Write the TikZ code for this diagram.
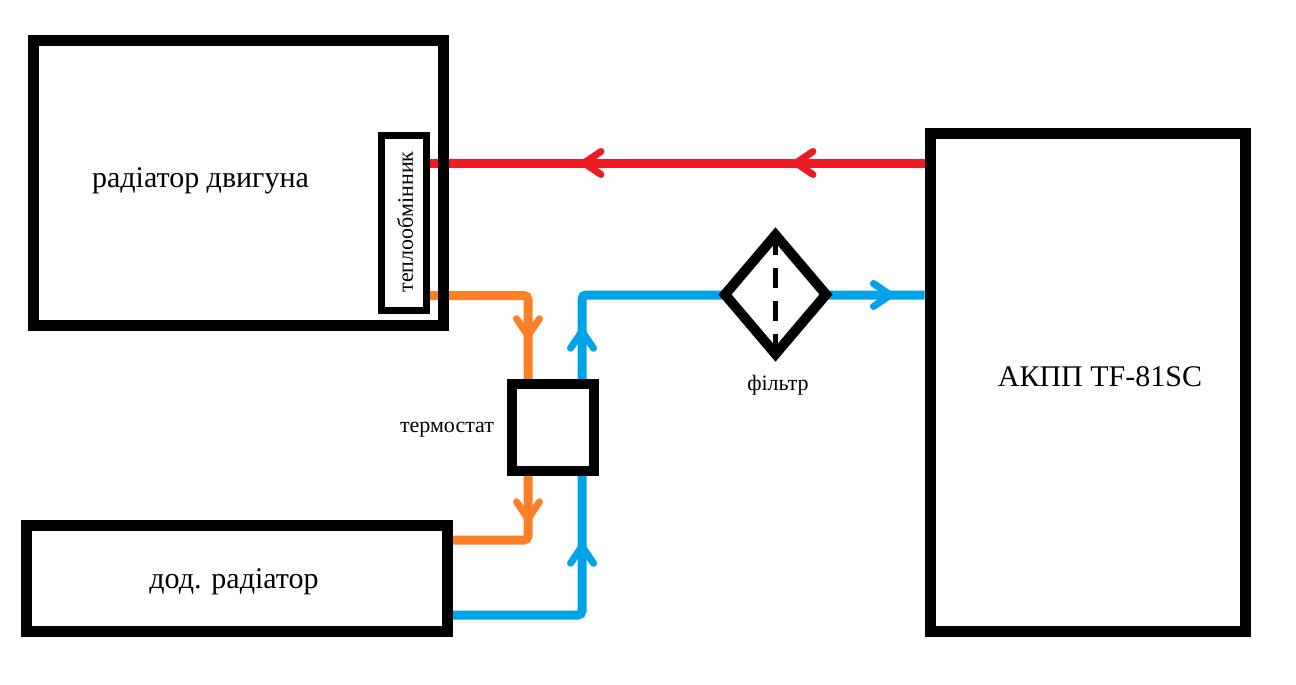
\documentclass[tikz,border=0pt]{standalone}
\usepackage{fontspec}
\setmainfont{Liberation Serif}
\usetikzlibrary{arrows.meta,decorations.markings,shapes.geometric,backgrounds}

\definecolor{hotred}{RGB}{237,28,36}
\definecolor{warmorange}{RGB}{255,127,39}
\definecolor{coldblue}{RGB}{0,162,232}

\newcommand{\flowtip}{\arrow{Straight Barb[length=17pt,width=23pt,line width=7pt,round]}}

\tikzset{
  unit/.style={draw=black, line width=11pt, inner sep=0pt},
  pipe/.style={line width=9pt, rounded corners=4pt, postaction={decorate}},
  bigtext/.style={font=\fontsize{30}{36}\selectfont},
  smalltext/.style={font=\fontsize{22}{26}\selectfont},
}

\begin{document}
\begin{tikzpicture}[x=1pt, y=-1pt]
    \useasboundingbox (0,0) rectangle (1296,685);
    % Draw engine radiator
    \node[unit, minimum width=410, minimum height=285] (engine) at (238.5,183) {};
    \node[bigtext, anchor=base] (enginetext) at (200.5,187) {радіатор двигуна};
    \node[unit, line width=7pt, minimum width=45, minimum height=175] (exch) at (404,223) {};
    \node[smalltext, rotate=90] (exchtext) at (405,222) {теплообмінник};
    % Draw gearbox
    \node[unit, minimum width=315.5, minimum height=498] (akpp) at (1087.75,382.5) {};
    \node[bigtext, anchor=base] (akpptext) at (1100,386) {АКПП TF-81SC};
    % Draw extra radiator
    \node[unit, minimum width=420.5, minimum height=106.5] (dod) at (236.75,578.25) {};
    \node[bigtext, anchor=base] (dodtext) at (234,588) {дод. радіатор};
    % Draw thermostat
    \node[unit, line width=10pt, fill=white, minimum width=82, minimum height=87] (therm) at (553,427.5) {};
    \node[smalltext, anchor=base] (thermtext) at (447,432) {термостат};
    % Draw filter
    \node[draw, diamond, line width=10pt, fill=white, inner sep=0pt, outer sep=0pt,
          minimum width=101, minimum height=119] (filter) at (775.5,294.5) {};
    \draw[line width=5pt, dash pattern=on 20pt off 13pt] (filter.north) -- (filter.south);
    \node[smalltext, anchor=base] (filtertext) at (778,390) {фільтр};
    % Draw pipes
    \begin{pgfonlayer}{background}
    \draw[pipe, hotred, decoration={markings,
          mark=at position 132pt with {\flowtip},
          mark=at position 344pt with {\flowtip}}]
        (akpp.west |- 0,163) -- (exch.east |- 0,163);
    \draw[pipe, warmorange, decoration={markings,
          mark=at position 140pt with {\flowtip},
          mark=at position 323pt with {\flowtip}}]
        (exch.east |- 0,295.5) -| (528,540) -- (dod.east |- 0,540);
    \draw[pipe, coldblue, decoration={markings,
          mark=at position 200pt with {\flowtip},
          mark=at position 415pt with {\flowtip},
          mark=at position 758pt with {\flowtip}}]
        (dod.east |- 0,615) -| (582,295) -- (akpp.west |- 0,295);
    \end{pgfonlayer}
\end{tikzpicture}
\end{document}
